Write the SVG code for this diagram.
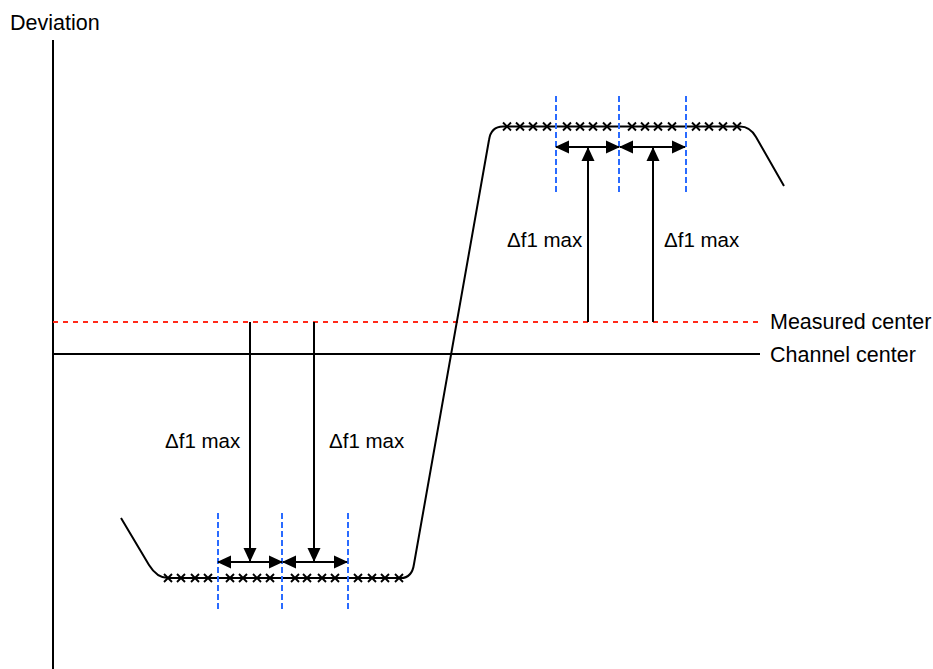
<svg xmlns="http://www.w3.org/2000/svg" width="933" height="669" viewBox="0 0 933 669">
<style>
.ln{stroke:#000;stroke-width:2;fill:none}
.bl{stroke:#2a6bff;stroke-width:2;stroke-dasharray:6,3;fill:none}
.rd{stroke:#ff2a1a;stroke-width:2;stroke-dasharray:5,5;fill:none}
.tx{font-family:"Liberation Sans",Arial,sans-serif;font-size:20.5px;fill:#000}
.tl{font-size:21.5px}
.arr{stroke:#000;stroke-width:2;fill:none;marker-end:url(#ah)}
.darr{stroke:#000;stroke-width:2;fill:none;marker-start:url(#ah);marker-end:url(#ah)}
</style>
<defs>
<marker id="ah" markerUnits="userSpaceOnUse" markerWidth="14" markerHeight="14" viewBox="0 0 14 14" refX="13" refY="7" orient="auto-start-reverse">
<path d="M0,0.5 L14,7 L0,13.5 z" fill="#000"/>
</marker>
<path id="x" d="M-4,-4 L4,4 M-4,4 L4,-4" stroke="#000" stroke-width="1.9" fill="none"/>
</defs>
<rect width="933" height="669" fill="#fff"/>
<g id="axis">
<line class="ln" x1="53" y1="40" x2="53" y2="669"/>
<text class="tx tl" x="10" y="30">Deviation</text>
</g>
<g id="measured-center">
<line class="rd" x1="53" y1="322" x2="762" y2="322"/>
<text class="tx tl" x="770" y="329">Measured center</text>
</g>
<g id="channel-center">
<line class="ln" x1="53" y1="354" x2="760" y2="354"/>
<text class="tx tl" x="770" y="362">Channel center</text>
</g>
<g id="signal">
<path class="ln" d="M121,518 L149,565 Q157,578 168,578 L401,578 Q412,578 414,564 L489,140 Q491,126.5 503,126.5 L740,126.5 Q750,126.5 756,137 L784,186"/>
</g>
<g id="top-crosses">
<use href="#x" x="507" y="126.5"/><use href="#x" x="520" y="126.5"/><use href="#x" x="533" y="126.5"/><use href="#x" x="547" y="126.5"/>
<use href="#x" x="567" y="126.5"/><use href="#x" x="580" y="126.5"/><use href="#x" x="593" y="126.5"/><use href="#x" x="607" y="126.5"/>
<use href="#x" x="632" y="126.5"/><use href="#x" x="645" y="126.5"/><use href="#x" x="658" y="126.5"/><use href="#x" x="672" y="126.5"/>
<use href="#x" x="696" y="126.5"/><use href="#x" x="709" y="126.5"/><use href="#x" x="723" y="126.5"/><use href="#x" x="737" y="126.5"/>
</g>
<g id="bottom-crosses">
<use href="#x" x="168" y="578"/><use href="#x" x="181" y="578"/><use href="#x" x="195" y="578"/><use href="#x" x="208" y="578"/>
<use href="#x" x="230" y="578"/><use href="#x" x="243" y="578"/><use href="#x" x="257" y="578"/><use href="#x" x="270" y="578"/>
<use href="#x" x="295" y="578"/><use href="#x" x="307" y="578"/><use href="#x" x="322" y="578"/><use href="#x" x="335" y="578"/>
<use href="#x" x="358" y="578"/><use href="#x" x="372" y="578"/><use href="#x" x="385" y="578"/><use href="#x" x="399" y="578"/>
</g>
<g id="top-windows">
<line class="bl" x1="556" y1="96" x2="556" y2="193"/>
<line class="bl" x1="619" y1="96" x2="619" y2="193"/>
<line class="bl" x1="686" y1="96" x2="686" y2="193"/>
</g>
<g id="bottom-windows">
<line class="bl" x1="218" y1="513" x2="218" y2="609"/>
<line class="bl" x1="282" y1="513" x2="282" y2="609"/>
<line class="bl" x1="348" y1="513" x2="348" y2="609"/>
</g>
<g id="connectors">
<line class="darr" x1="556" y1="147" x2="619" y2="147"/>
<line class="darr" x1="620" y1="147" x2="685" y2="147"/>
<line class="arr" x1="588" y1="322" x2="588" y2="148"/>
<line class="arr" x1="653" y1="322" x2="653" y2="148"/>
<line class="darr" x1="218" y1="562" x2="282" y2="562"/>
<line class="darr" x1="283" y1="562" x2="347" y2="562"/>
<line class="arr" x1="250" y1="322" x2="250" y2="561"/>
<line class="arr" x1="314" y1="322" x2="314" y2="561"/>
</g>
<g id="labels">
<text class="tx" x="507" y="247">Δf1 max</text>
<text class="tx" x="664" y="247">Δf1 max</text>
<text class="tx" x="165" y="448">Δf1 max</text>
<text class="tx" x="329" y="448">Δf1 max</text>
</g>
</svg>
